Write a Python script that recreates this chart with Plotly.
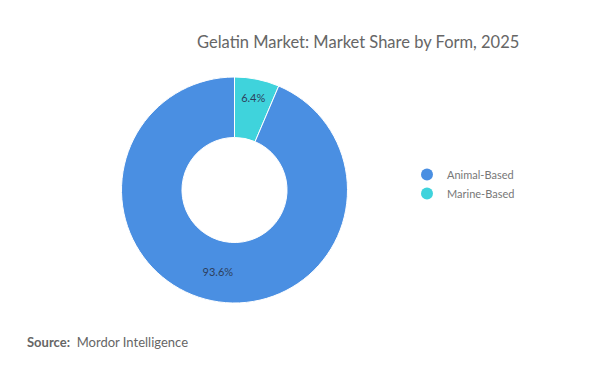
import plotly.graph_objects as go

categories = ["Animal-Based", "Marine-Based"]
shares = [93.6, 6.4]
colors = ["#4A8FE2", "#3FD3DC"]

W, H = 600, 365
OFF = 8  # page body margin in the browser

def px_x(x):
    return (x - OFF) / W

def px_y(y):
    return 1 - (y - OFF) / H

fig = go.Figure()

# Marine slice first so it starts at 12 o'clock going clockwise
fig.add_trace(go.Pie(
    labels=categories[::-1],
    values=shares[::-1],
    hole=0.465,
    sort=False,
    direction="clockwise",
    rotation=0,
    marker=dict(colors=colors[::-1], line=dict(color="white", width=1)),
    texttemplate="%{value:.1f}%",
    textposition="inside",
    insidetextorientation="horizontal",
    textfont=dict(family="Lato, sans-serif", size=11, color="#2E3F5C"),
    showlegend=False,
    hoverinfo="label+percent",
    domain=dict(x=[px_x(121.5), px_x(347.5)], y=[px_y(303), px_y(77)]),
))

for name, col in zip(categories, colors):
    fig.add_trace(go.Scatter(
        x=[None], y=[None], mode="markers", name=name,
        marker=dict(symbol="circle", size=12, color=col),
        showlegend=True,
    ))

fig.update_layout(
    width=W, height=H,
    margin=dict(l=0, r=0, t=0, b=0),
    paper_bgcolor="white", plot_bgcolor="white",
    xaxis=dict(visible=False), yaxis=dict(visible=False),
    legend=dict(
        x=px_x(407), y=px_y(160), xanchor="left", yanchor="top",
        font=dict(family="Lato, sans-serif", size=11, color="#777777"),
        itemwidth=30, tracegroupgap=0, bgcolor="rgba(0,0,0,0)",
    ),
    annotations=[
        dict(text="Gelatin Market: Market Share by Form, 2025",
             x=px_x(358), y=px_y(42), xref="paper", yref="paper",
             xanchor="center", yanchor="middle", showarrow=False,
             font=dict(family="Lato, sans-serif", size=16.5, color="#666666")),
        dict(text="<b>Source:</b>  Mordor Intelligence",
             x=px_x(25), y=px_y(342), xref="paper", yref="paper",
             xanchor="left", yanchor="middle", showarrow=False,
             font=dict(family="Lato, sans-serif", size=13, color="#666666")),
    ],
)

fig.write_html("out.html")
